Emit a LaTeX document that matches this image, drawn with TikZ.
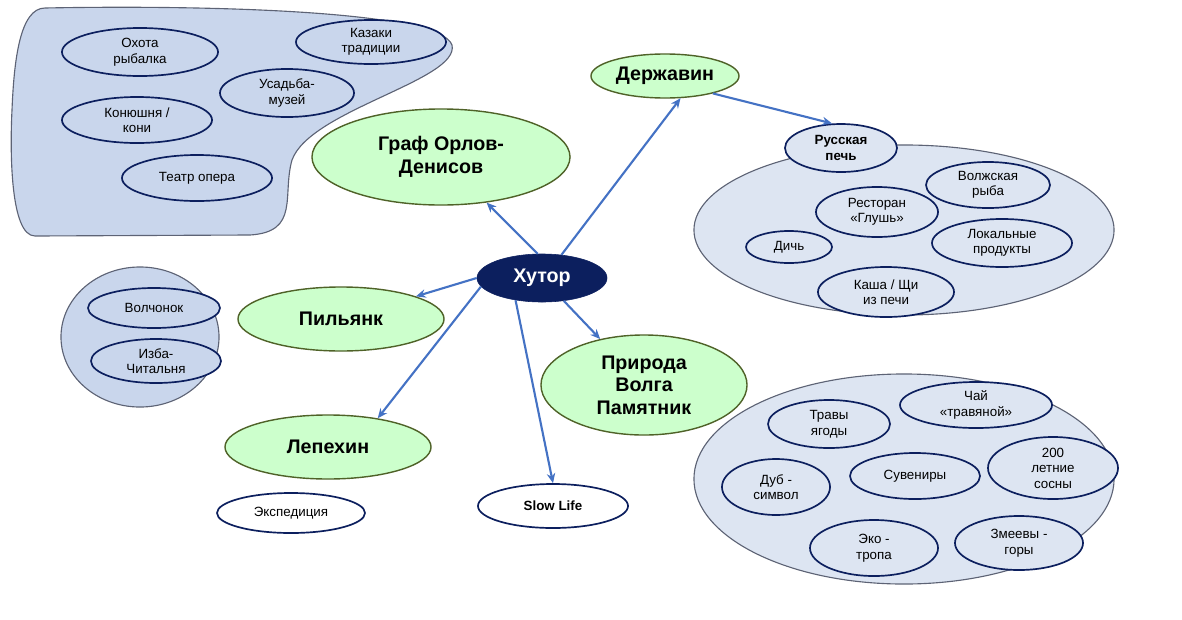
\documentclass[tikz,border=0pt]{standalone}
\usepackage{fontspec}
\setmainfont{Liberation Sans}
\usetikzlibrary{shapes.geometric, arrows.meta}
\definecolor{navy}{HTML}{0C1F5E}
\definecolor{blobfill}{HTML}{C9D6EC}
\definecolor{lightfill}{HTML}{DDE5F2}
\definecolor{greenfill}{HTML}{CCFFCC}
\definecolor{greenline}{HTML}{4F6228}
\definecolor{arrowblue}{HTML}{4472C4}
\begin{document}
\begin{tikzpicture}[x=0.025cm, y=-0.025cm,
  sm/.style={ellipse, draw=navy, line width=1.2pt, inner sep=0pt, align=center, font=\fontsize{9.5}{11}\selectfont},
  big/.style={ellipse, draw=greenline, fill=greenfill, line width=1pt, inner sep=0pt, align=center, font=\fontsize{14}{16}\selectfont\bfseries},
  grp/.style={ellipse, draw=gray!70!navy, line width=.8pt, inner sep=0pt},
  arr/.style={-{Stealth[length=7pt,width=6pt]}, arrowblue, line width=1.5pt}]
  \useasboundingbox (0,0) rectangle (1182,619);
  % blob top left
  \draw[fill=blobfill, draw=gray!70!navy, line width=.8pt] (45,8) .. controls (200,5) and (440,10) .. (452,45)
    .. controls (460,80) and (310,110) .. (292,160) .. controls (282,195) and (300,232) .. (250,235)
    -- (35,236) .. controls (10,236) and (10,150) .. (12,110) .. controls (14,60) and (20,8) .. (45,8);
  \node[sm, fill=blobfill, minimum width=3.9cm, minimum height=1.2cm] (hunt) at (140,52) {Охота\\рыбалка};
  \node[sm, fill=blobfill, minimum width=3.75cm, minimum height=1.1cm] (cossack) at (371,42) {Казаки\\традиции};
  \node[sm, fill=blobfill, minimum width=3.35cm, minimum height=1.2cm] (manor) at (287,93) {Усадьба-\\музей};
  \node[sm, fill=blobfill, minimum width=3.75cm, minimum height=1.15cm] (stable) at (137,120) {Конюшня /\\кони};
  \node[sm, fill=blobfill, minimum width=3.75cm, minimum height=1.15cm] (theatre) at (197,178) {Театр опера};
  % left circle
  \node[grp, fill=blobfill, minimum width=3.95cm, minimum height=3.5cm] (leftgrp) at (140,337) {};
  \node[sm, fill=blobfill, minimum width=3.3cm, minimum height=1cm] (wolf) at (154,308) {Волчонок};
  \node[sm, fill=blobfill, minimum width=3.25cm, minimum height=1.1cm] (izba) at (156,361) {Изба-\\Читальня};
  % right groups
  \node[grp, fill=lightfill, minimum width=10.5cm, minimum height=4.25cm] (food) at (904,230) {};
  \node[sm, fill=lightfill, minimum width=2.8cm, minimum height=1.2cm, font=\fontsize{9.5}{11}\selectfont\bfseries] (oven) at (841,148) {Русская\\печь};
  \node[sm, fill=lightfill, minimum width=3.1cm, minimum height=1.15cm] (fish) at (988,185) {Волжская\\рыба};
  \node[sm, fill=lightfill, minimum width=3.05cm, minimum height=1.25cm] (rest) at (877,212) {Ресторан\\«Глушь»};
  \node[sm, fill=lightfill, minimum width=2.15cm, minimum height=.8cm] (game) at (789,247) {Дичь};
  \node[sm, fill=lightfill, minimum width=3.5cm, minimum height=1.2cm] (local) at (1002,243) {Локальные\\продукты};
  \node[sm, fill=lightfill, minimum width=3.4cm, minimum height=1.25cm] (kasha) at (886,292) {Каша / Щи\\из печи};
  \node[grp, fill=lightfill, minimum width=10.5cm, minimum height=5.25cm] (nature) at (904,479) {};
  \node[sm, fill=lightfill, minimum width=3.05cm, minimum height=1.2cm] (herbs) at (829,424) {Травы\\ягоды};
  \node[sm, fill=lightfill, minimum width=3.8cm, minimum height=1.15cm] (tea) at (976,405) {Чай\\«травяной»};
  \node[sm, fill=lightfill, minimum width=3.25cm, minimum height=1.55cm] (pines) at (1053,468) {200\\летние\\сосны};
  \node[sm, fill=lightfill, minimum width=3.25cm, minimum height=1.15cm] (souv) at (915,476) {Сувениры};
  \node[sm, fill=lightfill, minimum width=2.7cm, minimum height=1.4cm] (oak) at (776,487) {Дуб -\\символ};
  \node[sm, fill=lightfill, minimum width=3.2cm, minimum height=1.4cm] (trail) at (874,548) {Эко -\\тропа};
  \node[sm, fill=lightfill, minimum width=3.2cm, minimum height=1.35cm] (hills) at (1019,543) {Змеевы -\\горы};
  % main nodes
  \node[big, minimum width=6.45cm, minimum height=2.4cm] (orlov) at (441,157) {Граф Орлов-\\Денисов};
  \node[big, minimum width=3.7cm, minimum height=1.1cm] (derzh) at (665,76) {Державин};
  \node[big, minimum width=5.15cm, minimum height=1.6cm] (pil) at (341,319) {Пильянк};
  \node[big, minimum width=5.15cm, minimum height=2.5cm] (priroda) at (644,385) {Природа\\Волга\\Памятник};
  \node[big, minimum width=5.15cm, minimum height=1.6cm] (lep) at (328,447) {Лепехин};
  \node[sm, fill=white, minimum width=3.7cm, minimum height=1cm] (exped) at (291,513) {Экспедиция};
  \node[sm, fill=white, minimum width=3.75cm, minimum height=1.1cm, font=\fontsize{9.5}{11}\selectfont\bfseries] (slow) at (553,506) {Slow Life};
  \node[ellipse, fill=navy, draw=navy, text=white, minimum width=3.25cm, minimum height=1.2cm, inner sep=0pt, font=\fontsize{14}{16}\selectfont\bfseries] (khutor) at (542,278) {Хутор};
  % arrows
  \draw[arr] (khutor.100) -- (orlov);
  \draw[arr] (khutor.50) -- (derzh.-55);
  \draw[arr] (derzh.-20) -- (oven.110);
  \draw[arr] (khutor.180) -- (pil);
  \draw[arr] (khutor.188) -- (lep.30);
  \draw[arr] (khutor) -- (priroda);
  \draw[arr] (khutor.220) -- (slow.north);
\end{tikzpicture}
\end{document}
